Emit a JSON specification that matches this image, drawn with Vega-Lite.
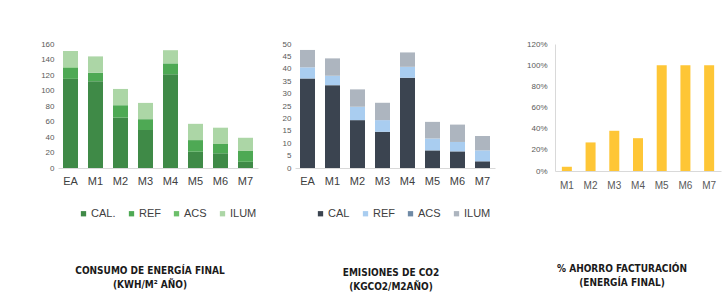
{
  "$schema": "https://vega.github.io/schema/vega-lite/v6.json",
  "background": "white",
  "padding": {"left": 40, "top": 40, "right": 5, "bottom": 5},
  "spacing": 2,
  "resolve": {"scale": {"color": "independent"}, "legend": {"color": "independent"}},
  "datasets": {
    "energia": [
      {"m": "EA", "t": "CAL.", "v": 115}, {"m": "EA", "t": "REF", "v": 14}, {"m": "EA", "t": "ACS", "v": 1}, {"m": "EA", "t": "ILUM", "v": 21},
      {"m": "M1", "t": "CAL.", "v": 112}, {"m": "M1", "t": "REF", "v": 11}, {"m": "M1", "t": "ACS", "v": 0}, {"m": "M1", "t": "ILUM", "v": 21},
      {"m": "M2", "t": "CAL.", "v": 65}, {"m": "M2", "t": "REF", "v": 16}, {"m": "M2", "t": "ACS", "v": 0}, {"m": "M2", "t": "ILUM", "v": 21},
      {"m": "M3", "t": "CAL.", "v": 49}, {"m": "M3", "t": "REF", "v": 14}, {"m": "M3", "t": "ACS", "v": 0}, {"m": "M3", "t": "ILUM", "v": 21},
      {"m": "M4", "t": "CAL.", "v": 121}, {"m": "M4", "t": "REF", "v": 14}, {"m": "M4", "t": "ACS", "v": 0}, {"m": "M4", "t": "ILUM", "v": 17},
      {"m": "M5", "t": "CAL.", "v": 21}, {"m": "M5", "t": "REF", "v": 15}, {"m": "M5", "t": "ACS", "v": 0}, {"m": "M5", "t": "ILUM", "v": 21},
      {"m": "M6", "t": "CAL.", "v": 19}, {"m": "M6", "t": "REF", "v": 12}, {"m": "M6", "t": "ACS", "v": 0}, {"m": "M6", "t": "ILUM", "v": 21},
      {"m": "M7", "t": "CAL.", "v": 8}, {"m": "M7", "t": "REF", "v": 14}, {"m": "M7", "t": "ACS", "v": 0}, {"m": "M7", "t": "ILUM", "v": 17}
    ],
    "emisiones": [
      {"m": "EA", "t": "CAL", "v": 36.1}, {"m": "EA", "t": "REF", "v": 4.5}, {"m": "EA", "t": "ACS", "v": 0}, {"m": "EA", "t": "ILUM", "v": 7},
      {"m": "M1", "t": "CAL", "v": 33.4}, {"m": "M1", "t": "REF", "v": 3.8}, {"m": "M1", "t": "ACS", "v": 0}, {"m": "M1", "t": "ILUM", "v": 7},
      {"m": "M2", "t": "CAL", "v": 19.3}, {"m": "M2", "t": "REF", "v": 5.4}, {"m": "M2", "t": "ACS", "v": 0}, {"m": "M2", "t": "ILUM", "v": 7},
      {"m": "M3", "t": "CAL", "v": 14.6}, {"m": "M3", "t": "REF", "v": 4.7}, {"m": "M3", "t": "ACS", "v": 0}, {"m": "M3", "t": "ILUM", "v": 7},
      {"m": "M4", "t": "CAL", "v": 36.4}, {"m": "M4", "t": "REF", "v": 4.4}, {"m": "M4", "t": "ACS", "v": 0}, {"m": "M4", "t": "ILUM", "v": 5.8},
      {"m": "M5", "t": "CAL", "v": 7.1}, {"m": "M5", "t": "REF", "v": 4.8}, {"m": "M5", "t": "ACS", "v": 0}, {"m": "M5", "t": "ILUM", "v": 6.7},
      {"m": "M6", "t": "CAL", "v": 6.7}, {"m": "M6", "t": "REF", "v": 3.8}, {"m": "M6", "t": "ACS", "v": 0}, {"m": "M6", "t": "ILUM", "v": 7},
      {"m": "M7", "t": "CAL", "v": 2.7}, {"m": "M7", "t": "REF", "v": 4.4}, {"m": "M7", "t": "ACS", "v": 0}, {"m": "M7", "t": "ILUM", "v": 5.8}
    ],
    "ahorro": [
      {"m": "M1", "v": 0.04}, {"m": "M2", "v": 0.27}, {"m": "M3", "v": 0.38}, {"m": "M4", "v": 0.31},
      {"m": "M5", "v": 1.0}, {"m": "M6", "v": 1.0}, {"m": "M7", "v": 1.0}
    ]
  },
  "config": {
    "font": "Liberation Sans",
    "view": {"stroke": null},
    "axis": {"grid": false, "title": null},
    "axisX": {"labelAngle": 0, "ticks": false, "domainColor": "#d9d9d9", "labelColor": "#404040", "labelFontSize": 11, "labelPadding": 7},
    "axisY": {"domain": false, "ticks": false, "labelColor": "#595959", "labelFontSize": 8, "labelPadding": 4},
    "legend": {"orient": "bottom", "direction": "horizontal", "title": null, "symbolType": "square", "symbolSize": 28, "labelFontSize": 11, "labelColor": "#404040", "columnPadding": 10, "offset": 2, "padding": 20, "symbolStrokeWidth": 0, "labelOffset": 2},
    "title": {"orient": "bottom", "frame": "group", "font": "Liberation Sans Narrow, Arial Narrow, DejaVu Sans Condensed, Liberation Sans, sans-serif", "fontSize": 10, "fontWeight": "bold", "color": "#1a1a1a", "lineHeight": 14}
  },
  "hconcat": [
    {
      "data": {"name": "energia"},
      "width": 200, "height": 124,
      "title": {"text": ["CONSUMO DE ENERGÍA FINAL", "(KWH/M² AÑO)"], "offset": 27, "dx": -8},
      "mark": {"type": "bar", "width": 15},
      "encoding": {
        "x": {"field": "m", "type": "nominal", "sort": null},
        "y": {"field": "v", "type": "quantitative", "stack": "zero", "scale": {"domain": [0, 160]}, "axis": {"values": [0, 20, 40, 60, 80, 100, 120, 140, 160], "minExtent": 18, "maxExtent": 18}},
        "color": {"field": "t", "type": "nominal", "sort": ["CAL.", "REF", "ACS", "ILUM"], "scale": {"domain": ["CAL.", "REF", "ACS", "ILUM"], "range": ["#3f8a47", "#4ea954", "#6cbf6a", "#acd6a6"]}},
        "order": {"field": "o", "type": "quantitative"}
      },
      "transform": [{"calculate": "indexof(['CAL.','REF','ACS','ILUM'], datum.t)", "as": "o"}]
    },
    {
      "data": {"name": "emisiones"},
      "width": 200, "height": 124,
      "title": {"text": ["EMISIONES DE CO2", "(KGCO2/M2AÑO)"], "offset": 29, "dx": -4},
      "mark": {"type": "bar", "width": 15},
      "encoding": {
        "x": {"field": "m", "type": "nominal", "sort": null},
        "y": {"field": "v", "type": "quantitative", "stack": "zero", "scale": {"domain": [0, 50]}, "axis": {"values": [0, 5, 10, 15, 20, 25, 30, 35, 40, 45, 50], "minExtent": 16, "maxExtent": 16}},
        "color": {"field": "t", "type": "nominal", "sort": ["CAL", "REF", "ACS", "ILUM"], "scale": {"domain": ["CAL", "REF", "ACS", "ILUM"], "range": ["#3b4450", "#a9cdf0", "#6f8aa6", "#adb5bf"]}},
        "order": {"field": "o", "type": "quantitative"}
      },
      "transform": [{"calculate": "indexof(['CAL','REF','ACS','ILUM'], datum.t)", "as": "o"}]
    },
    {
      "data": {"name": "ahorro"},
      "width": 166, "height": 127,
      "title": {"text": ["% AHORRO FACTURACIÓN", "(ENERGÍA FINAL)"], "offset": 74, "dx": -16},
      "mark": {"type": "bar", "width": 10, "color": "#fec636"},
      "encoding": {
        "x": {"field": "m", "type": "nominal", "sort": null, "axis": {"labelFontSize": 10, "labelColor": "#595959", "labelPadding": 9}},
        "y": {"field": "v", "type": "quantitative", "scale": {"domain": [0, 1.2]}, "axis": {"format": ".0%", "values": [0, 0.2, 0.4, 0.6, 0.8, 1.0, 1.2], "domain": true, "domainColor": "#d9d9d9", "labelPadding": 8, "minExtent": 42, "maxExtent": 42}}
      }
    }
  ]
}
